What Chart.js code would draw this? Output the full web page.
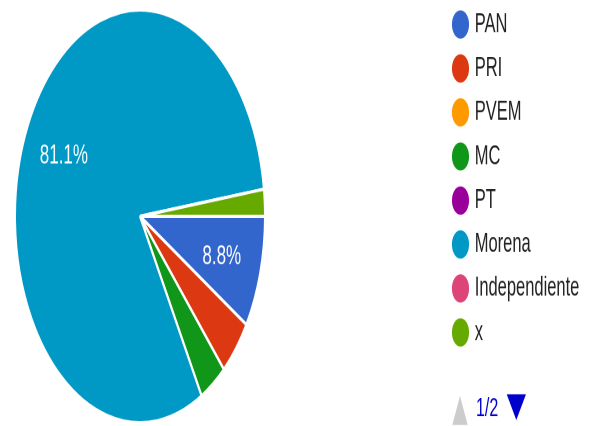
<!DOCTYPE html>
<html lang="es">
<head>
  <meta charset="UTF-8">
  <title>Votos por partido</title>
  <script src="https://cdn.jsdelivr.net/npm/chart.js"></script>
  <style>
    html, body {
      margin: 0;
      padding: 0;
      background: #fff;
      overflow: hidden;
    }
    .page {
      width: 590px;
      height: 426px;
      overflow: hidden;
    }
    /* the source picture is stretched vertically, so is the canvas */
    .wrap {
      width: 590px;
      height: 258px;
      transform: scaleY(1.6512);
      transform-origin: 0 0;
    }
  </style>
</head>
<body>
  <div class="page">
    <div class="wrap"><canvas id="pieChart" width="590" height="258"></canvas></div>
  </div>

  <script>
    // datos
    const partidos = ['PAN', 'PRI', 'PVEM', 'MC', 'PT', 'Morena', 'Independiente', 'x'];
    const porcentajes = [8.8, 4.5, 0, 3.5, 0, 81.1, 0, 2.1];
    const colores = ['#3366cc', '#dc3912', '#ff9900', '#109618', '#990099', '#0099c6', '#dd4477', '#66aa00'];
    const pagina = '1/2';

    const fuente = 'Arial, "Liberation Sans", sans-serif';

    // put pie area and legend where the picture has them
    const colocar = {
      id: 'colocar',
      afterLayout(chart) {
        Object.assign(chart.chartArea, { left: 14, top: 5, right: 266, bottom: 257, width: 252, height: 252 });
        const lg = chart.legend;
        const w = lg.right - lg.left;
        lg.left = 444.35;
        lg.right = lg.left + w;
        lg.top = -3.6;
        lg.bottom = 258;
        lg.width = w;
        lg.height = lg.bottom - lg.top;
      }
    };

    // percentage text inside the big slices
    const etiquetas = {
      id: 'etiquetas',
      afterDatasetsDraw(chart) {
        const ctx = chart.ctx;
        const total = porcentajes.reduce((a, b) => a + b, 0);
        chart.getDatasetMeta(0).data.forEach((arc, i) => {
          const pct = porcentajes[i] / total * 100;
          if (pct < 5) return;
          const p = arc.getProps(['x', 'y', 'startAngle', 'endAngle', 'outerRadius']);
          const mid = (p.startAngle + p.endAngle) / 2;
          const r = p.outerRadius * 0.68;
          ctx.save();
          ctx.fillStyle = '#ffffff';
          ctx.font = '17px ' + fuente;
          ctx.textAlign = 'center';
          ctx.textBaseline = 'middle';
          ctx.fillText(pct.toFixed(1) + '%', p.x + Math.cos(mid) * r, p.y + Math.sin(mid) * r + 1);
          ctx.restore();
        });
      }
    };

    // legend page arrows
    const paginacion = {
      id: 'paginacion',
      afterDraw(chart) {
        const ctx = chart.ctx;
        ctx.save();
        ctx.fillStyle = '#cccccc';
        ctx.beginPath();
        ctx.moveTo(452.3, 257.4);
        ctx.lineTo(467.7, 257.4);
        ctx.lineTo(460, 239.8);
        ctx.closePath();
        ctx.fill();

        ctx.fillStyle = '#0000cc';
        ctx.font = '16px ' + fuente;
        ctx.textBaseline = 'middle';
        ctx.fillText(pagina, 476, 247.5);

        ctx.beginPath();
        ctx.moveTo(506.7, 238.8);
        ctx.lineTo(526, 238.8);
        ctx.lineTo(516.3, 254.4);
        ctx.closePath();
        ctx.fill();
        ctx.restore();
      }
    };

    const ctx = document.getElementById('pieChart').getContext('2d');
    const pieChart = new Chart(ctx, {
      type: 'pie',
      data: {
        labels: partidos,
        datasets: [{
          data: porcentajes,
          backgroundColor: colores,
          borderColor: '#ffffff',
          borderWidth: 2
        }]
      },
      options: {
        responsive: false,
        devicePixelRatio: 2,
        animation: false,
        rotation: 90,
        events: [],
        plugins: {
          tooltip: { enabled: false },
          legend: {
            position: 'right',
            align: 'start',
            labels: {
              usePointStyle: true,
              pointStyle: 'circle',
              boxWidth: 12,
              boxHeight: 13.5,
              padding: 10.15,
              color: '#222222',
              font: { size: 16.5, family: fuente }
            }
          }
        }
      },
      plugins: [colocar, etiquetas, paginacion]
    });
  </script>
</body>
</html>
